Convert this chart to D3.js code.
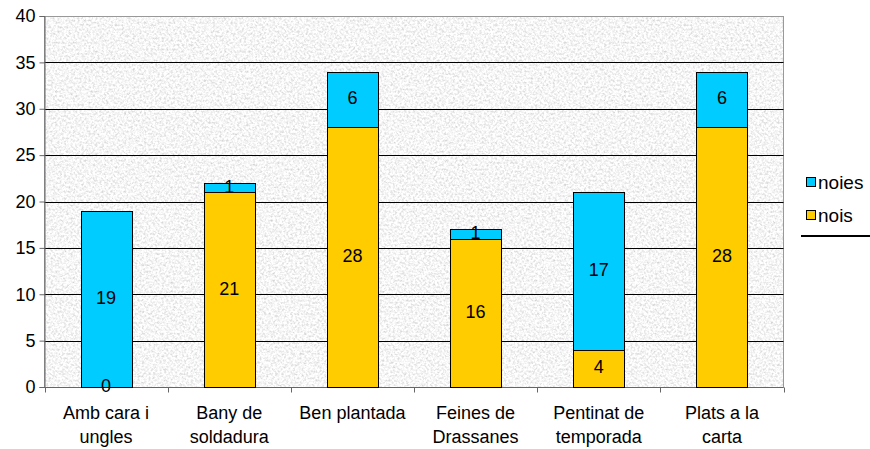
<!DOCTYPE html>
<html><head><meta charset="utf-8">
<script src="https://cdn.jsdelivr.net/npm/d3@7"></script>
<style>body{margin:0;background:#fff}svg{display:block}text{font-family:"Liberation Sans",Arial,sans-serif;}</style>
</head><body>
<svg id="c" width="870" height="449"></svg>
<script>
const categories = [["Amb cara i","ungles"],["Bany de","soldadura"],["Ben plantada"],["Feines de","Drassanes"],["Pentinat de","temporada"],["Plats a la","carta"]];
const nois = [0,21,28,16,4,28];
const noies = [19,1,6,1,17,6];
const yTicks = [0,5,10,15,20,25,30,35,40];
const seriesNames = ["noies","nois"];
const colors = {nois:"#FFCC00", noies:"#00CCFF"};

const FS = "18px";
const svg = d3.select("#c");
const L=44.5, R=783.5, T=16, B=387;
const x = d3.scaleBand().domain(d3.range(categories.length)).range([L,R]).paddingInner(0.585).paddingOuter(0.2925);
const xb = d3.scaleBand().domain(d3.range(categories.length)).range([L,R]);
const y = d3.scaleLinear().domain([0,40]).range([B,T]);

const defs = svg.append("defs");
const f = defs.append("filter").attr("id","tex").attr("x",0).attr("y",0).attr("width","100%").attr("height","100%");
f.append("feTurbulence").attr("type","fractalNoise").attr("baseFrequency","0.45").attr("numOctaves",4).attr("seed",7).attr("result","n");
f.append("feColorMatrix").attr("in","n").attr("type","matrix")
 .attr("values","0.7 0 0 0 0.57  0.7 0 0 0 0.57  0.7 0 0 0 0.57  0 0 0 0 1");

svg.append("rect").attr("x",L).attr("y",T).attr("width",R-L).attr("height",B-T).attr("fill","#e8e8e8").attr("filter","url(#tex)");
svg.append("rect").attr("x",L).attr("y",T+0.5).attr("width",R-L).attr("height",B-T).attr("fill","none").attr("stroke","#999").attr("stroke-width",1);

// gridlines
svg.append("g").selectAll("line").data(yTicks.filter(d=>d>0&&d<40)).join("line")
 .attr("x1",L).attr("x2",R).attr("y1",d=>Math.round(y(d))+0.5).attr("y2",d=>Math.round(y(d))+0.5)
 .attr("stroke","#000").attr("stroke-width",1);

// y axis
const ya = svg.append("g").attr("transform",`translate(${L},0)`)
 .call(d3.axisLeft(y).tickValues(yTicks).tickSize(5).tickPadding(4));
ya.select(".domain").attr("stroke","#666");
ya.selectAll(".tick line").attr("stroke","#666");
ya.selectAll("text").attr("font-size",FS).attr("fill","#000").attr("font-family","Liberation Sans, Arial, sans-serif");

// x axis
const xa = svg.append("g").attr("transform",`translate(0,${B+0.5})`);
xa.append("line").attr("x1",L).attr("x2",R).attr("stroke","#666");
xa.selectAll("line.t").data(d3.range(categories.length+1)).join("line").attr("class","t")
 .attr("x1",i=>Math.round(L+i*xb.bandwidth())+0.5).attr("x2",i=>Math.round(L+i*xb.bandwidth())+0.5)
 .attr("y1",0).attr("y2",5).attr("stroke","#666");
const lab = svg.append("g").selectAll("text").data(categories).join("text")
 .attr("x",(d,i)=>xb(i)+xb.bandwidth()/2).attr("y",419).attr("text-anchor","middle").attr("font-size",FS);
lab.selectAll("tspan").data(d=>d).join("tspan").attr("x",function(){return this.parentNode.getAttribute("x");})
 .attr("dy",(d,i)=>i?"24px":0).text(d=>d);

// bars
const stack = categories.map((c,i)=>({i, nois:nois[i], noies:noies[i]}));
const g = svg.append("g");
stack.forEach(s=>{
  const segs = [["nois",0,s.nois],["noies",s.nois,s.nois+s.noies]];
  segs.forEach(([k,a,b])=>{
    if(b>a){
      g.append("rect").attr("x",Math.round(x(s.i))+0.5).attr("width",Math.round(x.bandwidth()))
       .attr("y",Math.round(y(b))+0.5).attr("height",Math.round(y(a))-Math.round(y(b)))
       .attr("fill",colors[k]).attr("stroke","#000").attr("stroke-width",1);
    }
  });
  segs.forEach(([k,a,b])=>{
    const v=b-a;
    if(k==="noies" && v===0) return;
    g.append("text").attr("x",x(s.i)+x.bandwidth()/2).attr("y",y((a+b)/2)+5)
     .attr("text-anchor","middle").attr("font-size",FS).text(v);
  });
});

// legend
const lg = svg.append("g");
seriesNames.forEach((n,i)=>{
  const yy = 183 + i*33;
  lg.append("rect").attr("x",806.5).attr("y",yy-5.5).attr("width",9).attr("height",9).attr("fill",colors[n]).attr("stroke","#000");
  lg.append("text").attr("x",818).attr("y",yy+6).attr("font-size","19px").text(n);
});
lg.append("line").attr("x1",801).attr("x2",870).attr("y1",236).attr("y2",236).attr("stroke","#000").attr("stroke-width",2);
</script>
</body></html>
